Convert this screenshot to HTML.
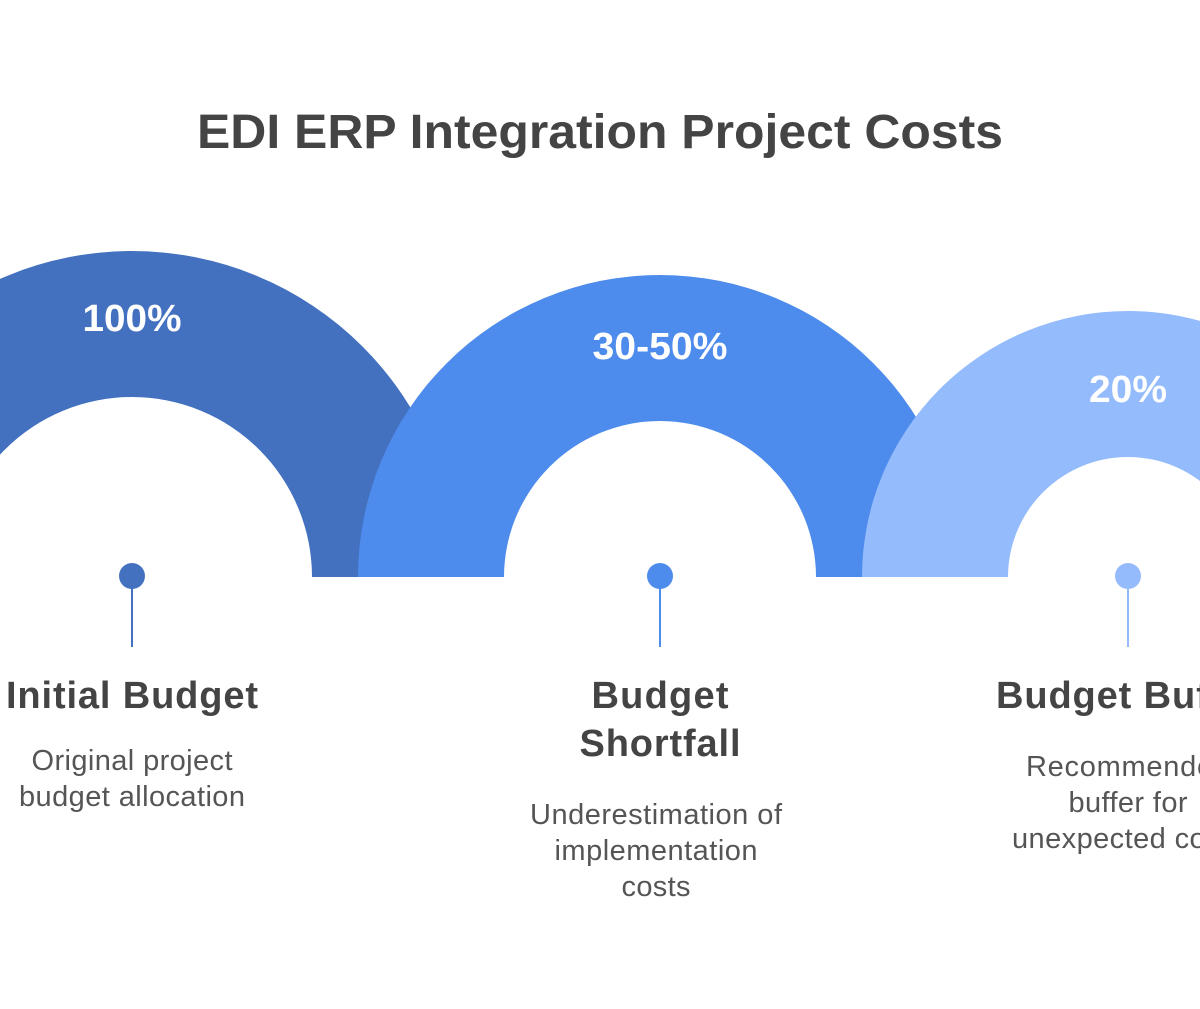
<!DOCTYPE html>
<html><head><meta charset="utf-8"><style>
html,body{margin:0;padding:0;background:#fff;}
svg{display:block;}
text{font-family:"Liberation Sans",Arial,sans-serif;}
</style></head><body>
<svg width="1200" height="1009" viewBox="0 0 1200 1009" xmlns="http://www.w3.org/2000/svg">
<rect width="1200" height="1009" fill="#fff"/>
<text x="600" y="148" text-anchor="middle" font-size="48" font-weight="bold" fill="#444" textLength="806" lengthAdjust="spacingAndGlyphs">EDI ERP Integration Project Costs</text>

<path d="M -194 577 A 326 326 0 0 1 458 577 L 312 577 A 180 180 0 0 0 -48 577 Z" fill="#4371c0"/>
<path d="M 358 577 A 302 302 0 0 1 962 577 L 816 577 A 156 156 0 0 0 504 577 Z" fill="#4d8bec"/>
<path d="M 862 577 A 266 266 0 0 1 1394 577 L 1248 577 A 120 120 0 0 0 1008 577 Z" fill="#94bbfc"/>

<text x="132" y="331" text-anchor="middle" font-size="38" font-weight="bold" fill="#fff" textLength="99" lengthAdjust="spacingAndGlyphs">100%</text>
<text x="660" y="359" text-anchor="middle" font-size="38" font-weight="bold" fill="#fff" textLength="135" lengthAdjust="spacingAndGlyphs">30-50%</text>
<text x="1128" y="402" text-anchor="middle" font-size="38" font-weight="bold" fill="#fff" textLength="78" lengthAdjust="spacingAndGlyphs">20%</text>

<line x1="132" y1="576" x2="132" y2="647" stroke="#4371c0" stroke-width="2"/>
<circle cx="132" cy="576" r="13" fill="#4371c0"/>
<line x1="660" y1="576" x2="660" y2="647" stroke="#4d8bec" stroke-width="2"/>
<circle cx="660" cy="576" r="13" fill="#4d8bec"/>
<line x1="1128" y1="576" x2="1128" y2="647" stroke="#94bbfc" stroke-width="2"/>
<circle cx="1128" cy="576" r="13" fill="#94bbfc"/>

<g font-size="38" font-weight="bold" fill="#444" text-anchor="middle" lengthAdjust="spacingAndGlyphs">
<text x="132" y="708" textLength="252">Initial Budget</text>
<text x="660" y="708" textLength="137">Budget</text>
<text x="660" y="756" textLength="161">Shortfall</text>
<text x="1128" y="708" textLength="264">Budget Buffer</text>
</g>
<g font-size="29" fill="#555" text-anchor="middle" lengthAdjust="spacingAndGlyphs">
<text x="132" y="770" textLength="201">Original project</text>
<text x="132" y="806" textLength="226">budget allocation</text>
<text x="656" y="824" textLength="252">Underestimation of</text>
<text x="656" y="860" textLength="203">implementation</text>
<text x="656" y="896" textLength="69">costs</text>
<text x="1128" y="776" textLength="204">Recommended</text>
<text x="1128" y="812" textLength="119">buffer for</text>
<text x="1128" y="848" textLength="232">unexpected costs</text>
</g>
</svg>
</body></html>
